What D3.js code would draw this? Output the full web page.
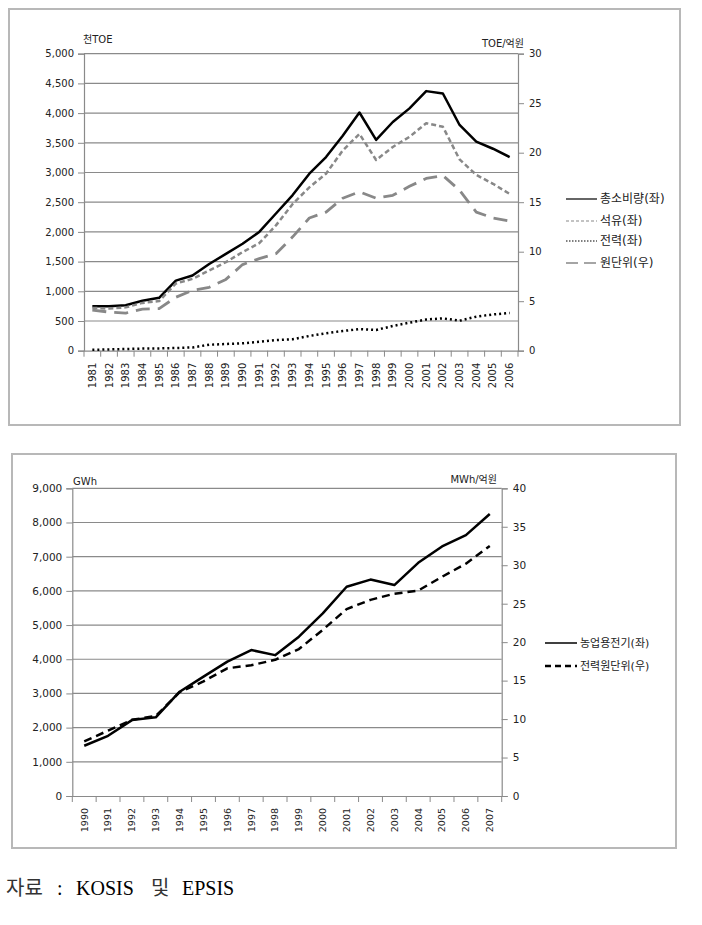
<!DOCTYPE html>
<html><head><meta charset="utf-8">
<script src="https://cdn.jsdelivr.net/npm/d3@7"></script>
<style>
body{margin:0;background:#fff;}
svg{display:block;}
text{font-family:"DejaVu Sans","Noto Sans CJK KR",sans-serif;fill:#222;}
text.serif{font-family:"Liberation Serif","Noto Sans CJK KR",serif;}
</style></head>
<body>
<svg id="c" width="702" height="925"></svg>
<script>
// ---- Chart 1 data ----
const years1 = ["1981","1982","1983","1984","1985","1986","1987","1988","1989","1990","1991","1992","1993","1994","1995","1996","1997","1998","1999","2000","2001","2002","2003","2004","2005","2006"];
const total1 = [750,750,765,840,890,1180,1265,1460,1630,1800,2000,2310,2620,2980,3260,3620,4010,3550,3850,4080,4370,4330,3800,3520,3400,3260];
const oil1 = [720,710,730,805,835,1130,1210,1350,1490,1660,1810,2110,2470,2750,2980,3370,3650,3210,3430,3600,3830,3770,3220,2960,2810,2640];
const elec1 = [15,22,28,35,38,45,55,100,113,124,150,180,192,248,293,332,362,349,416,472,525,545,505,573,610,635];
const unit1 = [4.1,3.9,3.8,4.2,4.25,5.4,6.1,6.4,7.2,8.7,9.3,9.8,11.5,13.4,14.0,15.4,16.05,15.4,15.7,16.6,17.4,17.7,16.2,14.0,13.4,13.1];
const leftTicks1 = [0,500,1000,1500,2000,2500,3000,3500,4000,4500,5000];
const rightTicks1 = [0,5,10,15,20,25,30];
const legend1 = ["총소비량(좌)","석유(좌)","전력(좌)","원단위(우)"];

// ---- Chart 2 data ----
const years2 = ["1990","1991","1992","1993","1994","1995","1996","1997","1998","1999","2000","2001","2002","2003","2004","2005","2006","2007"];
const agri2 = [1470,1760,2220,2300,3050,3490,3930,4270,4120,4660,5340,6120,6330,6170,6820,7300,7630,8250];
const elecUnit2 = [7.1,8.5,9.9,10.4,13.5,14.9,16.6,17.0,17.7,19.1,21.6,24.3,25.5,26.3,26.7,28.5,30.2,32.5];
const leftTicks2 = [0,1000,2000,3000,4000,5000,6000,7000,8000,9000];
const rightTicks2 = [0,5,10,15,20,25,30,35,40];
const legend2 = ["농업용전기(좌)","전력원단위(우)"];

const svg = d3.select("#c");
const fmt = d3.format(",");
const gridColor = "#8a8a8a";

function drawChart(cfg){
  const g = svg.append("g");
  g.append("rect").attr("x",cfg.frame[0]).attr("y",cfg.frame[1])
    .attr("width",cfg.frame[2]-cfg.frame[0]).attr("height",cfg.frame[3]-cfg.frame[1])
    .attr("fill","none").attr("stroke","#b8b8b8").attr("stroke-width",2);
  const x = d3.scaleBand().domain(cfg.years).range([cfg.L,cfg.R]).padding(0);
  const yL = d3.scaleLinear().domain([0,cfg.leftMax]).range([cfg.B,cfg.T]);
  const yR = d3.scaleLinear().domain([0,cfg.rightMax]).range([cfg.B,cfg.T]);
  const cx = d => x(d)+x.bandwidth()/2;
  g.selectAll(".grid").data(cfg.leftTicks.filter(d=>d>0)).join("line")
    .attr("x1",cfg.L).attr("x2",cfg.R).attr("y1",d=>yL(d)).attr("y2",d=>yL(d))
    .attr("stroke",gridColor).attr("stroke-width",1.2);
  const axL = g.append("g").attr("transform",`translate(${cfg.L},0)`)
    .call(d3.axisLeft(yL).tickValues(cfg.leftTicks).tickFormat(fmt).tickSize(6).tickPadding(4));
  const axR = g.append("g").attr("transform",`translate(${cfg.R},0)`)
    .call(d3.axisRight(yR).tickValues(cfg.rightTicks).tickSize(6).tickPadding(5));
  [axL,axR].forEach(a=>{
    a.select(".domain").attr("stroke",gridColor).attr("stroke-width",1.2);
    a.selectAll(".tick line").attr("stroke",gridColor);
    a.selectAll("text").style("font-size",cfg.fs+"px").attr("fill","#222");
  });
  const axB = g.append("g").attr("transform",`translate(0,${cfg.B})`)
    .call(d3.axisBottom(x).tickSize(0).tickPadding(0));
  axB.select(".domain").attr("stroke",gridColor).attr("stroke-width",1.2);
  axB.selectAll(".tick text").style("font-size",cfg.xfs+"px")
    .attr("transform","rotate(-90)").attr("text-anchor","end")
    .attr("x",-cfg.xoff).attr("y",0).attr("dy","0.35em").attr("fill","#222");
  const edges = cfg.years.map(d=>x(d)).concat([cfg.R]);
  g.selectAll(".xt").data(edges).join("line")
    .attr("x1",d=>d).attr("x2",d=>d).attr("y1",cfg.B).attr("y2",cfg.B+6)
    .attr("stroke",gridColor).attr("stroke-width",1);
  g.append("text").attr("x",cfg.unitL[0]).attr("y",cfg.unitL[1]).style("font-size",cfg.ufs+"px").text(cfg.unitLText);
  g.append("text").attr("x",cfg.unitR[0]).attr("y",cfg.unitR[1]).attr("text-anchor","end").style("font-size",cfg.ufs+"px").text(cfg.unitRText);
  cfg.series.forEach(s=>{
    const y = s.axis==="L"?yL:yR;
    const line = d3.line().x((d,i)=>cx(cfg.years[i])).y(d=>y(d));
    g.append("path").datum(s.values).attr("d",line).attr("fill","none")
      .attr("stroke",s.color).attr("stroke-width",s.w).attr("stroke-dasharray",s.dash)
      .attr("stroke-linejoin","round").attr("stroke-linecap","butt");
  });
  cfg.series.forEach((s,i)=>{
    const ly = cfg.legY[i];
    g.append("line").attr("x1",cfg.legX[0]).attr("x2",cfg.legX[1]).attr("y1",ly).attr("y2",ly)
      .attr("stroke",s.color).attr("stroke-width",s.lw||s.w).attr("stroke-dasharray",s.ldash||s.dash);
    g.append("text").attr("x",cfg.legX[1]+3).attr("y",ly).attr("dy","0.35em")
      .style("font-size",cfg.lfs+"px").text(s.name);
  });
}

drawChart({
  frame:[9,9,680,425], L:84, R:518, T:53.7, B:350.7,
  years:years1, leftMax:5000, rightMax:30, leftTicks:leftTicks1, rightTicks:rightTicks1,
  fs:10, xfs:10, xoff:12, ufs:10, lfs:12,
  unitL:[83,43], unitLText:"천TOE", unitR:[524,47], unitRText:"TOE/억원",
  legX:[566,597], legY:[199,221,241,263],
  series:[
    {name:legend1[0], values:total1, axis:"L", color:"#000", w:2.5, dash:null, lw:1.2},
    {name:legend1[1], values:oil1, axis:"L", color:"#888", w:2.5, dash:"5,3", lw:1.2, ldash:"3,2"},
    {name:legend1[2], values:elec1, axis:"L", color:"#000", w:2.5, dash:"2,3", lw:1.2, ldash:"1.5,1.5"},
    {name:legend1[3], values:unit1, axis:"R", color:"#888", w:2.8, dash:"14,8", lw:1.6, ldash:"12,6"}
  ]
});

drawChart({
  frame:[12,454,676,848], L:72.3, R:501.7, T:488.3, B:796,
  years:years2, leftMax:9000, rightMax:40, leftTicks:leftTicks2, rightTicks:rightTicks2,
  fs:10.5, xfs:9.5, xoff:12, ufs:10, lfs:11,
  unitL:[73,485], unitLText:"GWh", unitR:[497,483], unitRText:"MWh/억원",
  legX:[545,577], legY:[643,666],
  series:[
    {name:legend2[0], values:agri2, axis:"L", color:"#000", w:2.5, dash:null, lw:1.5},
    {name:legend2[1], values:elecUnit2, axis:"R", color:"#000", w:2.5, dash:"8,5", lw:2.5, ldash:"6,4"}
  ]
});

// footer
const foot = svg.append("g");
const footItems = [["자료",6,"#333"],[":",57,"#000"],["KOSIS",76,"#000"],["및",151,"#333"],["EPSIS",182,"#000"]];
footItems.forEach(([t,fx,c])=>{
  foot.append("text").attr("class","serif").attr("x",fx).attr("y",895)
    .style("font-size","20px").style("fill",c).text(t);
});
</script>
</body></html>
